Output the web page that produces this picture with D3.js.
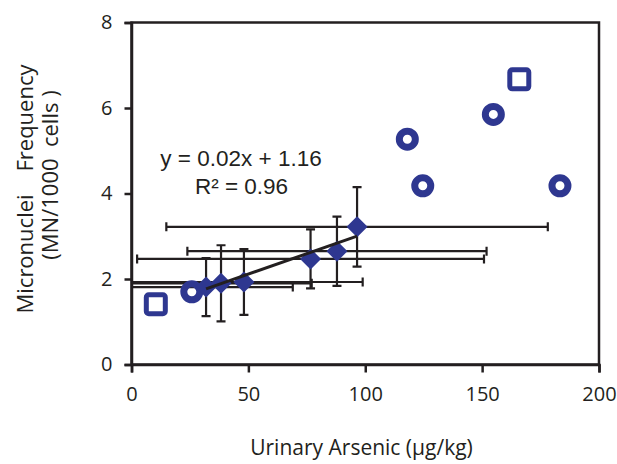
<!DOCTYPE html>
<html>
<head>
<meta charset="utf-8">
<script src="https://cdn.jsdelivr.net/npm/d3@7/dist/d3.min.js"></script>
<style>
  html, body { margin: 0; padding: 0; background: #fff; }
  svg { display: block; }
  text { white-space: pre; }
</style>
</head>
<body>
<svg id="chart" width="617" height="464"></svg>
<script>
// Diamonds: group means with error bars in both directions
const meanArsenic   = [31.9, 38.3, 48.1, 76.6, 87.9, 96.5];
const meanMN        = [1.81, 1.90, 1.93, 2.47, 2.65, 3.22];
const arsenicErr    = [37.1, 38.8, 50.8, 74.2, 64.0, 81.6];
const mnErr         = [0.68, 0.89, 0.77, 0.69, 0.81, 0.93];

// Open circles and open squares: individual study values
const circleArsenic = [25.8, 118.0, 124.6, 154.8, 183.3];
const circleMN      = [1.70, 5.27, 4.18, 5.85, 4.18];
const squareArsenic = [10.4, 165.9];
const squareMN      = [1.41, 6.67];

// Linear trend of the group means
const trendSlope = 0.0191;
const trendIntercept = 1.16;
const trendR2 = 0.96;

const xTicks = [0, 50, 100, 150, 200];
const yTicks = [0, 2, 4, 6, 8];

const navy = "#2e3790";
const ink = "#231f20";
const labelFont = "'Open Sans', 'Noto Sans', sans-serif";

const svg = d3.select("#chart");
const plot = { left: 131.5, right: 599, top: 22.5, bottom: 364.5 };

const x = d3.scaleLinear().domain([0, 200]).range([plot.left, plot.right]);
const y = d3.scaleLinear().domain([0, 8]).range([plot.bottom, plot.top]);

svg.append("defs").append("clipPath").attr("id", "plot-clip")
  .append("rect").attr("x", plot.left).attr("y", plot.top)
  .attr("width", plot.right - plot.left).attr("height", plot.bottom - plot.top);

// Frame around the plot area
svg.append("rect")
  .attr("x", plot.left).attr("y", plot.top)
  .attr("width", plot.right - plot.left).attr("height", plot.bottom - plot.top)
  .attr("fill", "none").attr("stroke", ink).attr("stroke-width", 2.5);

// Axes
const xAxis = svg.append("g").attr("transform", `translate(0,${plot.bottom})`)
  .call(d3.axisBottom(x).tickValues(xTicks).tickSize(8).tickPadding(14));
const yAxis = svg.append("g").attr("transform", `translate(${plot.left},0)`)
  .call(d3.axisLeft(y).tickValues(yTicks).tickSize(7).tickPadding(12));
[xAxis, yAxis].forEach(g => {
  g.select(".domain").attr("stroke", ink).attr("stroke-width", 2.5);
  g.selectAll(".tick line").attr("stroke", ink).attr("stroke-width", 2.5);
  g.selectAll(".tick text").attr("fill", "#231f20")
    .style("font-family", labelFont).style("font-size", "20px");
});

const groups = meanArsenic.map((v, i) => ({
  x: v, y: meanMN[i], ex: arsenicErr[i], ey: mnErr[i]
}));

// Error bars, clipped to the plot area
const bars = svg.append("g").attr("clip-path", "url(#plot-clip)")
  .attr("stroke", ink).attr("stroke-width", 2.2).attr("fill", "none");
const cap = 4.5;
groups.forEach(d => {
  const cx = x(d.x), cy = y(d.y);
  const x0 = x(d.x - d.ex), x1 = x(d.x + d.ex);
  const y0 = y(d.y - d.ey), y1 = y(d.y + d.ey);
  bars.append("line").attr("x1", x0).attr("x2", x1).attr("y1", cy).attr("y2", cy);
  bars.append("line").attr("x1", x0).attr("x2", x0).attr("y1", cy - cap).attr("y2", cy + cap);
  bars.append("line").attr("x1", x1).attr("x2", x1).attr("y1", cy - cap).attr("y2", cy + cap);
  bars.append("line").attr("x1", cx).attr("x2", cx).attr("y1", y0).attr("y2", y1);
  bars.append("line").attr("x1", cx - cap).attr("x2", cx + cap).attr("y1", y0).attr("y2", y0);
  bars.append("line").attr("x1", cx - cap).attr("x2", cx + cap).attr("y1", y1).attr("y2", y1);
});

// Open circles
svg.append("g").selectAll("circle")
  .data(circleArsenic.map((v, i) => [v, circleMN[i]]))
  .join("circle")
  .attr("cx", d => x(d[0])).attr("cy", d => y(d[1]))
  .attr("r", 8).attr("fill", "none")
  .attr("stroke", navy).attr("stroke-width", 7);

// Open squares
svg.append("g").selectAll("rect")
  .data(squareArsenic.map((v, i) => [v, squareMN[i]]))
  .join("rect")
  .attr("x", d => x(d[0]) - 9.5).attr("y", d => y(d[1]) - 9.5)
  .attr("width", 19).attr("height", 19).attr("rx", 2.5)
  .attr("fill", "none").attr("stroke", navy).attr("stroke-width", 5);

// Filled diamonds for the group means
svg.append("g").selectAll("path")
  .data(groups)
  .join("path")
  .attr("d", d => {
    const cx = x(d.x), cy = y(d.y), r = 10.5;
    return `M${cx},${cy - r}L${cx + r},${cy}L${cx},${cy + r}L${cx - r},${cy}Z`;
  })
  .attr("fill", navy);

// Trend line over the range of the group means
const [xmin, xmax] = d3.extent(meanArsenic);
svg.append("line")
  .attr("x1", x(xmin)).attr("y1", y(trendSlope * xmin + trendIntercept))
  .attr("x2", x(xmax)).attr("y2", y(trendSlope * xmax + trendIntercept))
  .attr("stroke", ink).attr("stroke-width", 3);

// Trend equation
const eq = svg.append("g")
  .style("font-family", "'Liberation Sans', Arial, sans-serif")
  .style("font-size", "22.5px").attr("fill", "#231f20");
eq.append("text").attr("x", 241).attr("y", 166).attr("text-anchor", "middle")
  .text(`y = ${d3.format(".2f")(trendSlope)}x + ${d3.format(".2f")(trendIntercept)}`);
eq.append("text").attr("x", 241.5).attr("y", 194).attr("text-anchor", "middle")
  .text(`R² = ${d3.format(".2f")(trendR2)}`);

// Axis titles
svg.append("text")
  .attr("x", 361.5).attr("y", 455)
  .attr("text-anchor", "middle")
  .style("font-family", labelFont).style("font-size", "21px").attr("fill", "#231f20")
  .text("Urinary Arsenic (µg/kg)");

const yTitle = svg.append("g")
  .style("font-family", labelFont).style("font-size", "22px").attr("fill", "#231f20");
yTitle.append("text")
  .attr("transform", "translate(33,189) rotate(-90)")
  .attr("text-anchor", "middle")
  .text("Micronuclei    Frequency");
yTitle.append("text")
  .attr("transform", "translate(58,175) rotate(-90)")
  .attr("text-anchor", "middle")
  .text("(MN/1000  cells )");
</script>
</body>
</html>
